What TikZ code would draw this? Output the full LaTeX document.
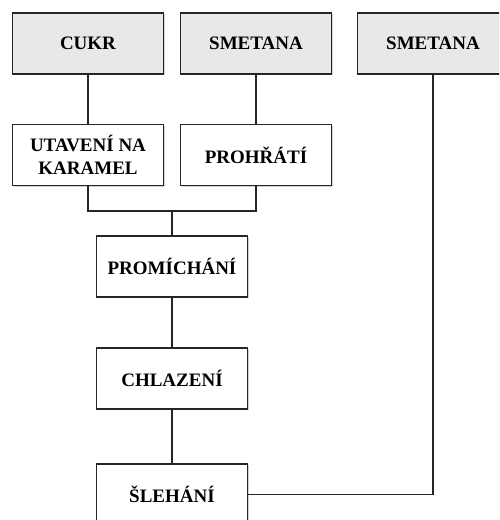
\documentclass[tikz,border=0pt]{standalone}
\usepackage{fontspec}
\setmainfont{Liberation Serif}
\usetikzlibrary{shadows}
\definecolor{inputfill}{HTML}{E8E8E8}
\begin{document}
\begin{tikzpicture}[x=1pt,y=1pt,
  box/.style={draw=black!85, line width=1.6pt, fill=white,
    minimum width=151pt, minimum height=61pt, inner sep=2pt,
    align=center, font=\fontsize{19}{23.5}\selectfont\bfseries,
    drop shadow={shadow xshift=1.2pt, shadow yshift=-1.2pt, opacity=0.35}},
  inbox/.style={box, fill=inputfill},
  link/.style={draw=black!85, line width=1.5pt}]
\useasboundingbox (0,0) rectangle (499,520);
\clip (0,0) rectangle (499,520);
\fill[white] (0,0) rectangle (499,520);

% raw materials
\node[inbox] (cukr)  at (88,476.5)  {CUKR};
\node[inbox] (smet1) at (256,476.5) {SMETANA};
\node[inbox] (smet2) at (433,476.5) {SMETANA};

% processing steps
\node[box] (utav)  at (88,365)    {UTAVENÍ NA\\KARAMEL};
\node[box] (prohr) at (256,365)   {PROHŘÁTÍ};
\node[box] (prom)  at (172,253.5) {PROMÍCHÁNÍ};
\node[box] (chlaz) at (172,141.5) {CHLAZENÍ};
\node[box] (sleh)  at (172,25.5)  {ŠLEHÁNÍ};

\coordinate (join) at (prom.north |- 0,309);

% connectors
\draw[link] (cukr.south) -- (utav.north);
\draw[link] (smet1.south) -- (prohr.north);
\draw[link] (utav.south) |- (join) -| (prohr.south);
\draw[link] (join) -- (prom.north);
\draw[link] (prom.south) -- (chlaz.north);
\draw[link] (chlaz.south) -- (sleh.north);
\draw[link] (sleh.east) -| (smet2.south);
\end{tikzpicture}
\end{document}
